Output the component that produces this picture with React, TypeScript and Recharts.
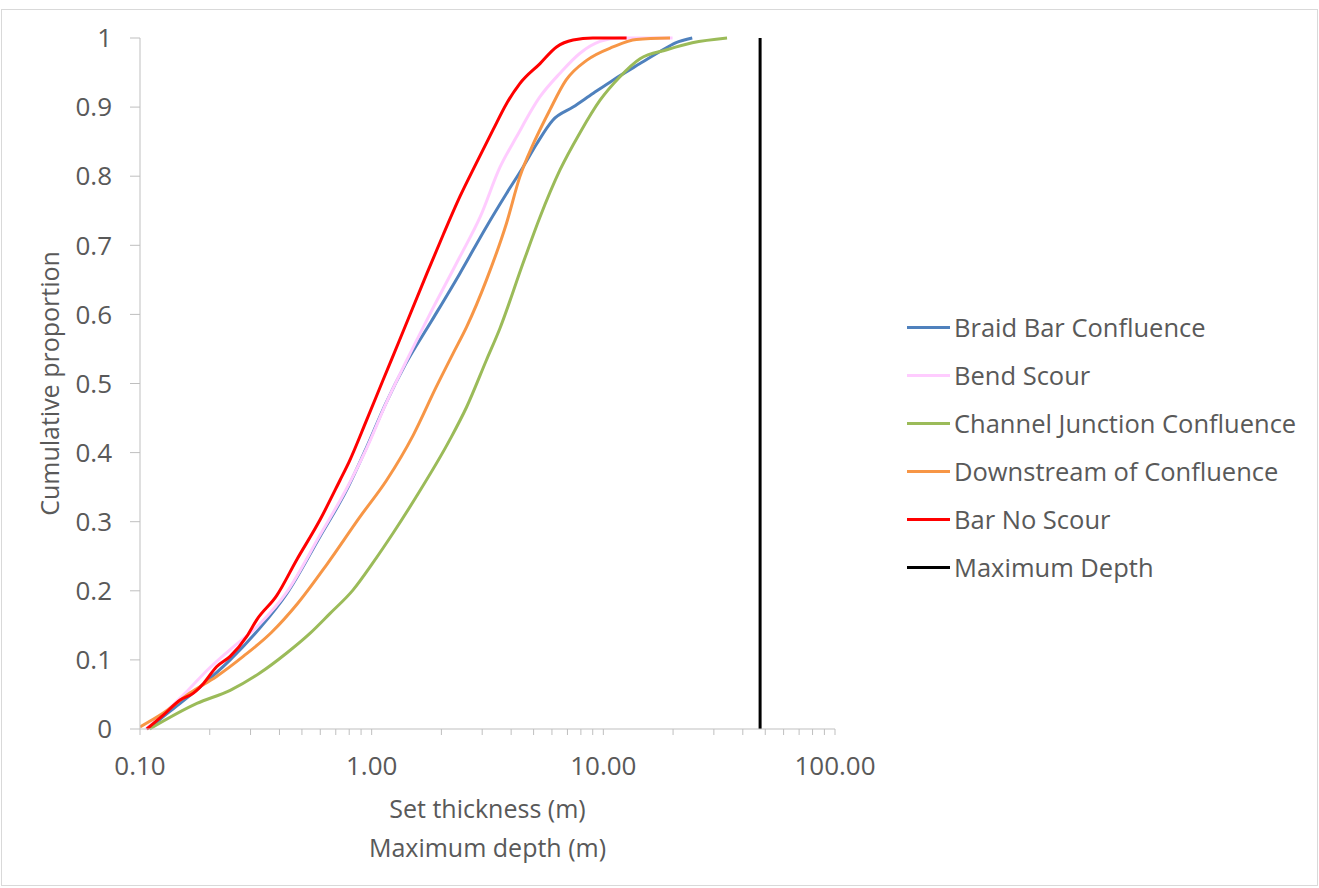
import React from 'react'
import { LineChart, Line, XAxis, YAxis, Legend } from 'recharts'

// [set thickness (m), cumulative proportion]
const braidBar: [number, number][] = [
  [0.11, 0], [0.126, 0.018], [0.149, 0.037], [0.182, 0.061], [0.245, 0.1], [0.329, 0.146],
  [0.43, 0.196], [0.597, 0.278], [0.78, 0.346], [0.94, 0.404], [1.15, 0.471], [1.4, 0.528],
  [1.81, 0.59], [2.4, 0.659], [3.13, 0.727], [3.82, 0.775], [4.5, 0.813],
  [5.16, 0.847], [6.05, 0.881], [7.4, 0.9], [9.05, 0.92], [11.0, 0.939], [14.4, 0.963],
  [17.5, 0.98], [20.5, 0.993], [24.2, 1.0],
]
const bendScour: [number, number][] = [
  [0.106, 0], [0.126, 0.022], [0.16, 0.055], [0.195, 0.085], [0.245, 0.115], [0.329, 0.152],
  [0.43, 0.198], [0.597, 0.28], [0.78, 0.348], [0.951, 0.406], [1.16, 0.473], [1.4, 0.53],
  [1.75, 0.595], [2.4, 0.683], [2.94, 0.741], [3.58, 0.813], [4.22, 0.857], [5.33, 0.915],
  [6.5, 0.949], [7.93, 0.978], [9.68, 0.995], [11.8, 1.0], [19.9, 1.0],
]
const channelJunction: [number, number][] = [
  [0.11, 0], [0.176, 0.037], [0.245, 0.056], [0.329, 0.081], [0.43, 0.11], [0.54, 0.138],
  [0.66, 0.167], [0.83, 0.201], [1.01, 0.24], [1.24, 0.284], [1.55, 0.335], [2.17, 0.418],
  [2.57, 0.466], [3.13, 0.534], [3.58, 0.58], [4.5, 0.674], [5.33, 0.741], [6.5, 0.809],
  [7.93, 0.863], [9.68, 0.91], [11.8, 0.944], [14.4, 0.97], [18.8, 0.983], [24.2, 0.993],
  [34.2, 1.0],
]
const downstream: [number, number][] = [
  [0.1, 0.003], [0.126, 0.023], [0.164, 0.052], [0.214, 0.076], [0.279, 0.105], [0.37, 0.14],
  [0.48, 0.182], [0.64, 0.238], [0.89, 0.307], [1.16, 0.36], [1.51, 0.425], [1.9, 0.495],
  [2.25, 0.544], [2.57, 0.582], [3.13, 0.65], [3.82, 0.732], [4.36, 0.799], [4.99, 0.847],
  [5.88, 0.896], [6.9, 0.939], [8.5, 0.968], [11.0, 0.987], [13.9, 0.998], [19.4, 1.0],
]
const barNoScour: [number, number][] = [
  [0.107, 0], [0.126, 0.02], [0.149, 0.042], [0.17, 0.052], [0.188, 0.066], [0.214, 0.09],
  [0.245, 0.105], [0.289, 0.134], [0.319, 0.158], [0.389, 0.193], [0.475, 0.245], [0.597, 0.302],
  [0.73, 0.36], [0.8, 0.387], [0.951, 0.447], [1.12, 0.505], [1.32, 0.563], [1.73, 0.659],
  [2.04, 0.716], [2.4, 0.77], [2.83, 0.819], [3.34, 0.867], [3.82, 0.905], [4.36, 0.934],
  [5.33, 0.963], [6.28, 0.987], [7.4, 0.997], [9.0, 1.0], [12.6, 1.0],
]
const maxDepth: [number, number][] = [[47.5, 0], [47.5, 1]]

const xMajorTicks = [0.1, 1, 10, 100]
const xTicks = [
  0.1, 0.2, 0.3, 0.4, 0.5, 0.6, 0.7, 0.8, 0.9,
  1, 2, 3, 4, 5, 6, 7, 8, 9,
  10, 20, 30, 40, 50, 60, 70, 80, 90, 100,
]
const yTicks = [0, 0.1, 0.2, 0.3, 0.4, 0.5, 0.6, 0.7, 0.8, 0.9, 1]

const toRows = (pts: [number, number][]) => pts.map(([x, y]) => ({ x, y }))

const series = [
  { name: 'Braid Bar Confluence', color: '#4f81bd', data: braidBar },
  { name: 'Bend Scour', color: '#ffccff', data: bendScour },
  { name: 'Channel Junction Confluence', color: '#9bbb59', data: channelJunction },
  { name: 'Downstream of Confluence', color: '#f79646', data: downstream },
  { name: 'Bar No Scour', color: '#ff0000', data: barNoScour },
  { name: 'Maximum Depth', color: '#000000', data: maxDepth },
]

const FONT = "'Open Sans', sans-serif"
const TEXT = '#595959'
const AXIS = '#bfbfbf'

const XTick = (props: any) => {
  const { x, y, payload } = props
  if (!xMajorTicks.includes(payload.value)) return <g />
  return (
    <text x={x} y={y + 40} textAnchor="middle" fill={TEXT} fontSize={26} fontFamily={FONT}>
      {payload.value.toFixed(2)}
    </text>
  )
}

// legend keeps the series order (Recharts would sort by name)
const LegendContent = () => (
  <div style={{ fontFamily: FONT, fontSize: 25.5, color: TEXT }}>
    {series.map(s => (
      <div key={s.name} style={{ display: 'flex', alignItems: 'center', height: 48, whiteSpace: 'nowrap' }}>
        <span style={{ display: 'inline-block', width: 43, height: 3, background: s.color, marginRight: 4 }} />
        {s.name}
      </div>
    ))}
  </div>
)

export default function App() {
  return (
    <div style={{ position: 'fixed', left: 0, top: 0, width: 1319, height: 888, background: '#fff' }}>
      <LineChart width={1319} height={888} margin={{ top: 38, right: 484, bottom: 0, left: 0 }}>
        <XAxis
          dataKey="x" type="number" scale="log" domain={[0.1, 100]} allowDataOverflow
          ticks={xTicks} interval={0} tick={<XTick />}
          tickSize={6} tickMargin={0} height={159}
          stroke={AXIS} tickLine={{ stroke: AXIS }}
          label={{
            content: (p: any) => {
              const vb = p.viewBox
              const cx = vb.x + vb.width / 2
              return (
                <text textAnchor="middle" fill={TEXT} fontSize={25} fontFamily={FONT}>
                  <tspan x={cx} y={vb.y + 89}>Set thickness (m)</tspan>
                  <tspan x={cx} y={vb.y + 128}>Maximum depth (m)</tspan>
                </text>
              )
            },
          }}
        />
        <YAxis
          type="number" domain={[0, 1]} ticks={yTicks} interval={0} width={140}
          tickSize={10} tickMargin={18}
          tick={{ fill: TEXT, fontSize: 26, fontFamily: FONT }}
          tickFormatter={(v: number) => String(v)}
          stroke={AXIS} tickLine={{ stroke: AXIS }}
          label={{
            content: (p: any) => {
              const vb = p.viewBox
              const cx = vb.x + 59
              const cy = vb.y + vb.height / 2
              return (
                <text x={cx} y={cy} textAnchor="middle" fill={TEXT} fontSize={25} fontFamily={FONT}
                  transform={`rotate(-90 ${cx} ${cy})`}>
                  Cumulative proportion
                </text>
              )
            },
          }}
        />
        <Legend
          layout="vertical" align="center" verticalAlign="middle"
          wrapperStyle={{ left: 907, top: 303, width: 410 }}
          content={<LegendContent />}
        />
        {series.map(s => (
          <Line
            key={s.name} name={s.name} data={toRows(s.data)} dataKey="y"
            type={s.name === 'Maximum Depth' ? 'linear' : 'monotone'}
            stroke={s.color} strokeWidth={3} dot={false} activeDot={false}
            isAnimationActive={false}
          />
        ))}
      </LineChart>
      <div style={{
        position: 'absolute', left: 1, top: 9, width: 1315, height: 875,
        border: '1px solid #d9d9d9', pointerEvents: 'none', zIndex: 2,
      }} />
    </div>
  )
}
